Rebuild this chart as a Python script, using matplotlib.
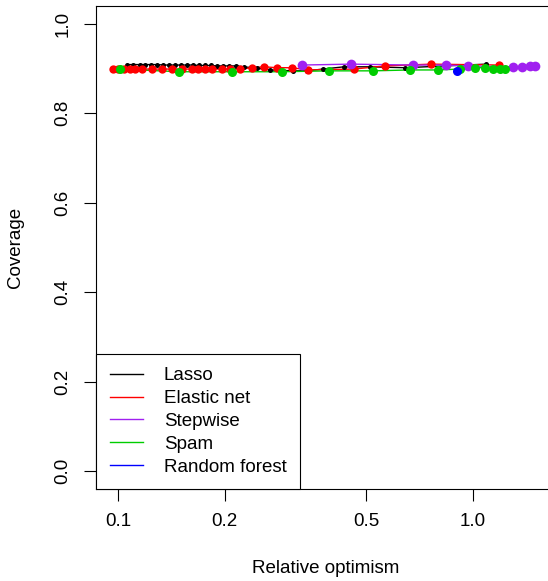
import matplotlib

matplotlib.use("Agg")
import matplotlib.pyplot as plt
from matplotlib.ticker import FixedLocator, FixedFormatter, NullLocator

plt.rcParams["font.family"] = ["Liberation Sans", "DejaVu Sans"]

# relative optimism (x) and coverage (y)
lasso_x = [0.106, 0.110, 0.115, 0.119, 0.124, 0.129, 0.134, 0.139, 0.145, 0.150,
           0.156, 0.163, 0.169, 0.176, 0.183, 0.190, 0.198, 0.205, 0.215, 0.226,
           0.246, 0.268, 0.311, 0.341, 0.378, 0.433, 0.513, 0.643, 1.088]
lasso_y = [0.909, 0.909, 0.909, 0.909, 0.909, 0.909, 0.908, 0.908, 0.908, 0.908,
           0.908, 0.908, 0.907, 0.907, 0.907, 0.906, 0.906, 0.906, 0.906, 0.904,
           0.901, 0.897, 0.895, 0.895, 0.899, 0.904, 0.904, 0.902, 0.910]

enet_x = [0.0968, 0.100, 0.104, 0.108, 0.112, 0.117, 0.125, 0.133, 0.142, 0.151,
          0.162, 0.168, 0.176, 0.184, 0.196, 0.207, 0.221, 0.239, 0.258, 0.281,
          0.309, 0.343, 0.462, 0.565, 0.761, 1.184]
enet_y = [0.899, 0.899, 0.899, 0.899, 0.899, 0.899, 0.899, 0.899, 0.899, 0.899,
          0.899, 0.899, 0.899, 0.899, 0.899, 0.899, 0.899, 0.902, 0.904, 0.902,
          0.902, 0.897, 0.899, 0.906, 0.910, 0.908]

step_x = [0.330, 0.453, 0.678, 0.839, 0.968, 1.296, 1.374, 1.447, 1.495]
step_y = [0.908, 0.910, 0.908, 0.908, 0.906, 0.904, 0.904, 0.906, 0.906]

spam_x = [0.101, 0.149, 0.210, 0.290, 0.393, 0.523, 0.664, 0.797, 0.919, 1.013,
          1.081, 1.138, 1.192, 1.231]
spam_y = [0.899, 0.893, 0.893, 0.893, 0.895, 0.895, 0.897, 0.897, 0.899, 0.902,
          0.902, 0.899, 0.899, 0.899]

rf_x = [0.901]
rf_y = [0.895]

labels = ["Lasso", "Elastic net", "Stepwise", "Spam", "Random forest"]
x_ticks = [0.1, 0.2, 0.5, 1.0]
x_tick_labels = ["0.1", "0.2", "0.5", "1.0"]
y_ticks = [0.0, 0.2, 0.4, 0.6, 0.8, 1.0]
y_tick_labels = ["0.0", "0.2", "0.4", "0.6", "0.8", "1.0"]

FONT = 13.5

series = [
    (lasso_x, lasso_y, "black", 3.6),
    (enet_x, enet_y, "#ff0000", 6.0),
    (step_x, step_y, "#a020f0", 7.0),
    (spam_x, spam_y, "#00cd00", 6.5),
    (rf_x, rf_y, "#0000ff", 6.5),
]

fig = plt.figure(figsize=(5.48, 5.81), dpi=100)
ax = fig.add_axes([96 / 548, 92 / 581, 460 / 548, 483 / 581])

handles = []
for (xs, ys, color, size), label in zip(series, labels):
    ax.plot(xs, ys, color=color, linewidth=1.0, zorder=2)
    ax.plot(xs, ys, linestyle="none", marker="o", markersize=size,
            markeredgewidth=0, color=color, zorder=3)
    (h,) = ax.plot([], [], color=color, linewidth=1.0, label=label)
    handles.append(h)

ax.set_xscale("log")
ax.set_xlim(0.0867, 1.714)
ax.set_ylim(-0.04, 1.04)

ax.xaxis.set_major_locator(FixedLocator(x_ticks))
ax.xaxis.set_major_formatter(FixedFormatter(x_tick_labels))
ax.xaxis.set_minor_locator(NullLocator())
ax.set_yticks(y_ticks)
ax.set_yticklabels(y_tick_labels, rotation=90, va="center")

ax.tick_params(axis="both", length=8.6, width=0.8, labelsize=FONT, pad=9)
for spine in ax.spines.values():
    spine.set_linewidth(0.8)

ax.set_xlabel("Relative optimism", fontsize=FONT, va="center")
ax.set_ylabel("Coverage", fontsize=FONT, va="center")
ax.xaxis.set_label_coords(0.5, -0.1636)
ax.yaxis.set_label_coords(-0.176, 0.5)

leg = ax.legend(handles=handles, loc="lower left", bbox_to_anchor=(0, 0),
                borderaxespad=0, fontsize=FONT, fancybox=False, framealpha=1,
                edgecolor="black", handlelength=1.8, handletextpad=1.1,
                borderpad=0.72, labelspacing=0.3)
leg.get_frame().set_linewidth(0.8)

fig.savefig("out.png", dpi=100)
